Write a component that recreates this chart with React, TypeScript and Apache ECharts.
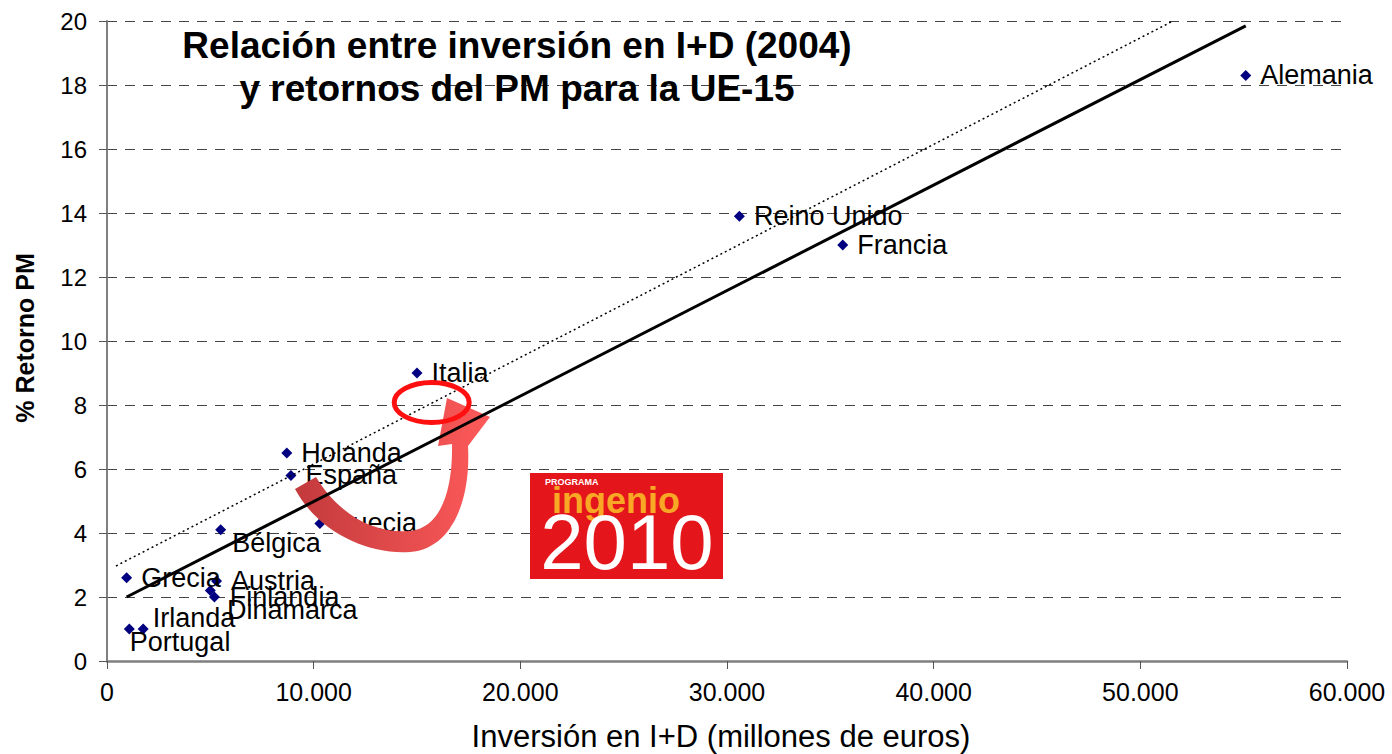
import React, { useEffect, useRef } from 'react';
import * as echarts from 'echarts';

// ---- data ----
const countries = ['Alemania', 'Reino Unido', 'Francia', 'Italia', 'Holanda', 'España', 'Suecia', 'Bélgica', 'Grecia', 'Austria', 'Finlandia', 'Dinamarca', 'Irlanda', 'Portugal'];
const investment = [55100, 30600, 35600, 15000, 8700, 8900, 10300, 5500, 950, 5300, 5000, 5200, 1750, 1080];
const returns = [18.3, 13.9, 13.0, 9.0, 6.5, 5.8, 4.3, 4.1, 2.6, 2.5, 2.2, 2.0, 1.0, 1.0];
const trendX = [950, 55100];
const trendY = [2.0, 19.85];
const upperX = [435, 51580];
const upperY = [2.97, 20];
const titleLines = ['Relación entre inversión en I+D (2004)', 'y retornos del PM para la UE-15'];
const xName = 'Inversión en I+D (millones de euros)';
const yName = '% Retorno PM';

// ---- label placement (style) ----
const labelOffsets: Record<string, [number, number]> = {
  'Bélgica': [-3, 13],
  'Finlandia': [5, 6],
  'Dinamarca': [-2, 13],
  'Irlanda': [-5, -11],
  'Portugal': [-14, 13],
};

const FONT = '"Liberation Sans", Arial, sans-serif';

const arrowPath =
  'M 295 489 C 318 532 368 555 410 552 C 452 549 471 500 468 446 ' +
  'L 490 417 L 447 398 L 438 446 L 452 444 ' +
  'C 453 492 440 528 410 531 C 372 534 338 513 316 477 Z';
echarts.graphic.registerShape('curvedArrow', echarts.graphic.extendPath(arrowPath, {}) as any);

const fmtThousands = (v: number) => String(v).replace(/\B(?=(\d{3})+(?!\d))/g, '.');

export default function App() {
  const ref = useRef<HTMLDivElement>(null);
  useEffect(() => {
    if (!ref.current) return;
    const chart = echarts.init(ref.current, undefined, { renderer: 'svg' });
    const scatterData = countries.map((name, i) => {
      const off = labelOffsets[name];
      const item: any = { name, value: [investment[i], returns[i]] };
      if (off) item.label = { offset: off };
      return item;
    });
    chart.setOption({
      animation: false,
      backgroundColor: '#fff',
      grid: { left: 107, right: 45, top: 21, bottom: 93, containLabel: false },
      xAxis: {
        type: 'value', min: 0, max: 60000, interval: 10000,
        axisLine: { show: true, onZero: false, lineStyle: { color: '#7f7f7f', width: 2.5 } },
        axisTick: { show: true, length: 8, lineStyle: { color: '#555', width: 1 } },
        axisLabel: { color: '#000', fontSize: 25, fontFamily: FONT, margin: 18, formatter: (v: number) => fmtThousands(v) },
        splitLine: { show: false },
      },
      yAxis: {
        type: 'value', min: 0, max: 20, interval: 2,
        axisLine: { show: true, onZero: false, lineStyle: { color: '#7f7f7f', width: 2 } },
        axisTick: { show: true, length: 8, lineStyle: { color: '#555', width: 1 } },
        axisLabel: { color: '#000', fontSize: 24, fontFamily: FONT, margin: 20 },
        splitLine: { show: true, lineStyle: { color: '#444', width: 1, type: [10, 8] } },
      },
      series: [
        {
          type: 'line', data: trendX.map((x, i) => [x, trendY[i]]), symbol: 'none', z: 20,
          lineStyle: { color: '#000', width: 3 }, silent: true,
        },
        {
          type: 'line', data: upperX.map((x, i) => [x, upperY[i]]), symbol: 'none', z: 5,
          lineStyle: { color: '#000', width: 1.5, type: [2, 3] }, silent: true,
        },
        {
          type: 'scatter', data: scatterData, symbol: 'diamond', symbolSize: 11, z: 3,
          itemStyle: { color: '#000080', opacity: 1 },
          label: {
            show: true, position: 'right', distance: 9, color: '#000',
            fontSize: 27, fontFamily: FONT, formatter: (p: any) => p.name,
          },
        },
      ],
      graphic: [
        {
          type: 'curvedArrow', x: 0, y: 0, z: 10,
          style: {
            fill: new echarts.graphic.LinearGradient(0, 0, 1, 0, [
              { offset: 0, color: '#c23a3c' },
              { offset: 1, color: '#ff5a5a' },
            ]),
          },
        },
        {
          type: 'ellipse', z: 11,
          shape: { cx: 431.7, cy: 402.5, rx: 37.5, ry: 20 },
          style: { fill: 'none', stroke: '#ff1010', lineWidth: 5 },
        },
        {
          type: 'rect', z: 30, shape: { x: 530, y: 473, width: 193, height: 106 },
          style: { fill: '#e4151b' },
        },
        {
          type: 'text', z: 31, x: 545, y: 482,
          style: { text: 'PROGRAMA', fill: '#fff', fontSize: 9, fontWeight: 'bold', fontFamily: FONT, align: 'left', verticalAlign: 'middle' },
        },
        {
          type: 'text', z: 31, x: 616, y: 500,
          style: { text: 'ingenio', fill: '#f9a825', fontSize: 36, fontWeight: 'bold', fontFamily: FONT, align: 'center', verticalAlign: 'middle' },
        },
        {
          type: 'text', z: 31, x: 627, y: 542,
          style: { text: '2010', fill: '#fff', fontSize: 78, fontFamily: FONT, align: 'center', verticalAlign: 'middle' },
        },
        {
          type: 'text', z: 40, x: 517, y: 45,
          style: { text: titleLines[0], fill: '#000', fontSize: 37, fontWeight: 'bold', fontFamily: FONT, align: 'center', verticalAlign: 'middle' },
        },
        {
          type: 'text', z: 40, x: 517, y: 88,
          style: { text: titleLines[1], fill: '#000', fontSize: 37, fontWeight: 'bold', fontFamily: FONT, align: 'center', verticalAlign: 'middle' },
        },
        {
          type: 'text', z: 40, x: 721, y: 736,
          style: { text: xName, fill: '#000', fontSize: 31, fontFamily: FONT, align: 'center', verticalAlign: 'middle' },
        },
        {
          type: 'text', z: 40, x: 25, y: 338, rotation: Math.PI / 2,
          style: { text: yName, fill: '#000', fontSize: 25, fontWeight: 'bold', fontFamily: FONT, align: 'center', verticalAlign: 'middle' },
        },
      ],
    });
    return () => chart.dispose();
  }, []);
  return <div ref={ref} style={{ position: 'absolute', left: 0, top: 0, width: 1392, height: 754 }} />;
}
